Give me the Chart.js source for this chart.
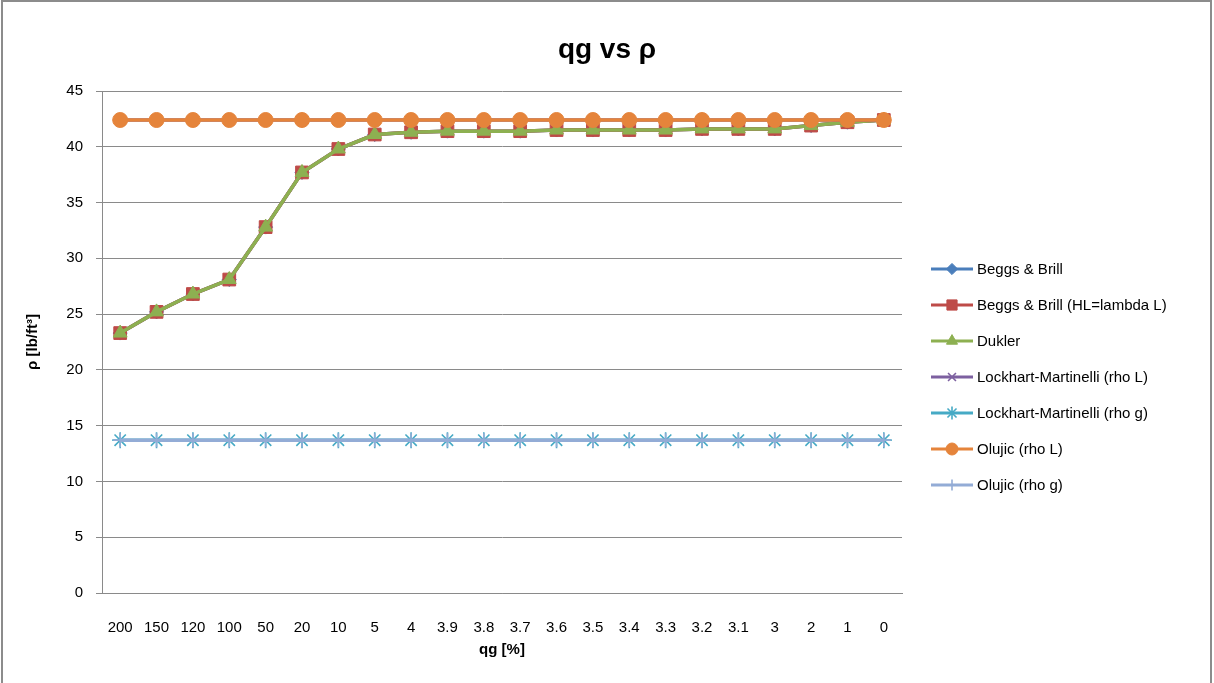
<!DOCTYPE html>
<html>
<head>
<meta charset="utf-8">
<script src="https://cdn.jsdelivr.net/npm/chart.js@4.4.0/dist/chart.umd.min.js"></script>
<style>
  html, body { margin: 0; padding: 0; background: #fff; }
  #frame { position: absolute; left: 1px; top: 0; width: 1211px; height: 720px;
           border: 2px solid #8c8c8c; box-sizing: border-box; }
  #c { position: absolute; left: 0; top: 0; }
</style>
</head>
<body>
<div id="frame"></div>
<canvas id="c" width="1214" height="683"></canvas>
<script>
// qg [%] categories, as they appear left to right
var qgLabels = ['200', '150', '120', '100', '50', '20', '10', '5', '4', '3.9', '3.8', '3.7',
                '3.6', '3.5', '3.4', '3.3', '3.2', '3.1', '3', '2', '1', '0'];

// density values [lb/ft3]
var beggsBrill    = [23.3, 25.2, 26.8, 28.1, 32.8, 37.7, 39.8, 41.1, 41.3, 41.4, 41.4, 41.4,
                     41.5, 41.5, 41.5, 41.5, 41.6, 41.6, 41.6, 41.9, 42.2, 42.4];
var beggsBrillHL  = [23.3, 25.2, 26.8, 28.1, 32.8, 37.7, 39.8, 41.1, 41.3, 41.4, 41.4, 41.4,
                     41.5, 41.5, 41.5, 41.5, 41.6, 41.6, 41.6, 41.9, 42.2, 42.4];
var dukler        = [23.3, 25.2, 26.8, 28.1, 32.8, 37.7, 39.8, 41.1, 41.3, 41.4, 41.4, 41.4,
                     41.5, 41.5, 41.5, 41.5, 41.6, 41.6, 41.6, 41.9, 42.2, 42.4];
var lockhartRhoL  = [42.4, 42.4, 42.4, 42.4, 42.4, 42.4, 42.4, 42.4, 42.4, 42.4, 42.4, 42.4,
                     42.4, 42.4, 42.4, 42.4, 42.4, 42.4, 42.4, 42.4, 42.4, 42.4];
var lockhartRhoG  = [13.7, 13.7, 13.7, 13.7, 13.7, 13.7, 13.7, 13.7, 13.7, 13.7, 13.7, 13.7,
                     13.7, 13.7, 13.7, 13.7, 13.7, 13.7, 13.7, 13.7, 13.7, 13.7];
var olujicRhoL    = [42.4, 42.4, 42.4, 42.4, 42.4, 42.4, 42.4, 42.4, 42.4, 42.4, 42.4, 42.4,
                     42.4, 42.4, 42.4, 42.4, 42.4, 42.4, 42.4, 42.4, 42.4, 42.4];
var olujicRhoG    = [13.7, 13.7, 13.7, 13.7, 13.7, 13.7, 13.7, 13.7, 13.7, 13.7, 13.7, 13.7,
                     13.7, 13.7, 13.7, 13.7, 13.7, 13.7, 13.7, 13.7, 13.7, 13.7];

var FONT = "'Liberation Sans', Arial, sans-serif";
var GRID = '#8a8a8a';

function series(label, data, color, style, radius, idx, markerColor) {
    var mk = markerColor || color;
    var stroked = (style === 'cross' || style === 'crossRot' || style === 'star');
    return {
        label: label, data: data,
        borderColor: color, backgroundColor: mk, borderWidth: 3.5,
        pointStyle: style, pointRadius: radius, pointHoverRadius: radius,
        pointBackgroundColor: mk, pointBorderColor: mk,
        pointBorderWidth: stroked ? 1.6 : 1,
        tension: 0, fill: false,
        order: 10 - idx          // later series drawn on top, like the original
    };
}

var datasets = [
    series('Beggs & Brill',                  beggsBrill,   '#4a7ebb', 'rectRot',  7, 0),
    series('Beggs & Brill (HL=lambda L)',    beggsBrillHL, '#be4b48', 'rect',     9, 1),
    series('Dukler',                         dukler,       '#8db051', 'triangle', 8, 2),
    series('Lockhart-Martinelli (rho L)',    lockhartRhoL, '#7d60a0', 'crossRot', 7, 3),
    series('Lockhart-Martinelli (rho g)',    lockhartRhoG, '#46aac5', 'star',     8, 4),
    series('Olujic (rho L)',                 olujicRhoL,   '#e5843b', 'circle',   7.5, 5),
    series('Olujic (rho g)',                 olujicRhoG,   '#93acd6', 'cross',    7, 6)
];

// legend drawn on the right, line sample with the series marker in the middle
var sideLegend = {
    id: 'sideLegend',
    afterDraw: function (chart) {
        var ctx = chart.ctx;
        var x0 = chart.chartArea.right + 29, y0 = 269, gap = 36;
        chart.data.datasets.forEach(function (ds, i) {
            var y = y0 + i * gap;
            ctx.save();
            ctx.strokeStyle = ds.borderColor;
            ctx.lineWidth = 3;
            ctx.beginPath(); ctx.moveTo(x0, y); ctx.lineTo(x0 + 42, y); ctx.stroke();
            ctx.fillStyle = ds.pointBackgroundColor;
            ctx.strokeStyle = ds.pointBorderColor;
            ctx.lineWidth = ds.pointBorderWidth;
            Chart.helpers.drawPoint(ctx, {
                pointStyle: ds.pointStyle, radius: ds.pointRadius * 0.8,
                rotation: 0, borderWidth: ds.pointBorderWidth
            }, x0 + 21, y);
            ctx.fillStyle = '#000';
            ctx.font = '15px ' + FONT;
            ctx.textBaseline = 'middle';
            ctx.textAlign = 'left';
            ctx.fillText(ds.label, x0 + 46, y + 1);
            ctx.restore();
        });
    }
};

new Chart(document.getElementById('c'), {
    type: 'line',
    data: { labels: qgLabels, datasets: datasets },
    plugins: [sideLegend],
    options: {
        responsive: false, animation: false,
        layout: { padding: 0 },
        plugins: {
            legend: { display: false },
            tooltip: { enabled: false },
            title: {
                display: true, text: 'qg vs ρ', color: '#000',
                font: { family: FONT, size: 28, weight: 'bold', lineHeight: 1.2 },
                padding: { top: 33, bottom: 24.4 }
            }
        },
        scales: {
            x: {
                type: 'category', offset: true,
                grid: { display: false },
                border: { display: true, color: GRID, width: 1 },
                ticks: { color: '#000', font: { family: FONT, size: 15 }, padding: 18,
                         maxRotation: 0, autoSkip: false },
                title: { display: true, text: 'qg [%]', color: '#000',
                         font: { family: FONT, size: 15, weight: 'bold', lineHeight: 1.2 },
                         padding: { top: 0, bottom: 24 } },
                afterFit: function (s) { s.height = 90; }
            },
            y: {
                min: 0, max: 45,
                grid: { color: GRID, lineWidth: 1, drawTicks: true, tickLength: 6, tickColor: GRID },
                border: { display: true, color: GRID, width: 1 },
                ticks: { stepSize: 5, color: '#000', font: { family: FONT, size: 15 }, padding: 13 },
                title: { display: true, text: 'ρ [lb/ft³]', color: '#000',
                         font: { family: FONT, size: 15, weight: 'bold', lineHeight: 1.2 },
                         padding: { top: 24, bottom: 0 } },
                afterFit: function (s) { s.width = 102; }
            },
            // empty right-hand box that keeps room for the legend
            side: {
                type: 'linear', position: 'right', display: true,
                grid: { display: false }, border: { display: false },
                ticks: { display: false },
                afterFit: function (s) { s.width = 312; }
            }
        }
    }
});
</script>
</body>
</html>
